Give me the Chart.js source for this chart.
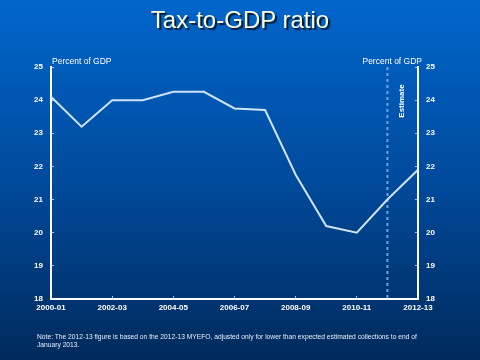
<!DOCTYPE html>
<html>
<head>
<meta charset="utf-8">
<script src="https://cdn.jsdelivr.net/npm/chart.js@4/dist/chart.umd.min.js"></script>
<style>
  html, body {
    margin: 0;
    padding: 0;
  }
  body {
    width: 480px;
    height: 360px;
    overflow: hidden;
    position: relative;
    background: linear-gradient(to bottom, #0066cc 0%, #004a9c 50%, #002a5c 100%);
    font-family: "Liberation Sans", Arial, sans-serif;
  }
  #title {
    position: absolute;
    left: 0;
    top: 8px;
    width: 480px;
    text-align: center;
    font-size: 24px;
    line-height: 1;
    color: #fffbdc;
    text-shadow: 2px 2px 1px #001a33;
  }
  #note {
    position: absolute;
    left: 37px;
    top: 333px;
    font-size: 6.7px;
    line-height: 8.4px;
    color: #e8eef8;
    white-space: nowrap;
  }
  #chartBox {
    position: absolute;
    left: 0;
    top: 0;
    width: 480px;
    height: 360px;
  }
</style>
</head>
<body>

<div id="chartBox"><canvas id="taxChart"></canvas></div>
<div id="title">Tax-to-GDP ratio</div>
<div id="note">Note: The 2012-13 figure is based on the 2012-13 MYEFO, adjusted only for lower than expected estimated collections to end of<br>January 2013.</div>

<script>
// =============================
// Data
// =============================

const years = [
    "2000-01", "2001-02", "2002-03", "2003-04", "2004-05", "2005-06", "2006-07",
    "2007-08", "2008-09", "2009-10", "2010-11", "2011-12", "2012-13"
];

const taxToGdp = [
    24.1, 23.2, 24.0, 24.0, 24.25, 24.25, 23.75,
    23.7, 21.75, 20.2, 20.0, 21.0, 21.9
];

const yTicks = [18, 19, 20, 21, 22, 23, 24, 25];

const estimateFrom = "2011-12";
const axisTitle = "Percent of GDP";
const estimateText = "Estimate";


// =============================
// Extra drawing
// =============================

const fontFamily = "'Liberation Sans', Arial, sans-serif";

const extras = {
    id: "extras",
    beforeDatasetsDraw(chart) {
        const ctx = chart.ctx;
        const area = chart.chartArea;
        const x = chart.scales.x.getPixelForValue(years.indexOf(estimateFrom));

        ctx.save();
        ctx.strokeStyle = "#6fa3e0";
        ctx.lineWidth = 2;
        ctx.setLineDash([3, 3]);
        ctx.beginPath();
        ctx.moveTo(x, area.top);
        ctx.lineTo(x, area.bottom);
        ctx.stroke();
        ctx.restore();
    },
    afterDraw(chart) {
        const ctx = chart.ctx;
        const area = chart.chartArea;
        const x = chart.scales.x.getPixelForValue(years.indexOf(estimateFrom));

        ctx.save();
        ctx.fillStyle = "#ffffff";
        ctx.font = "8.5px " + fontFamily;
        ctx.textBaseline = "middle";

        ctx.textAlign = "left";
        ctx.fillText(axisTitle, area.left + 1, area.top - 5);

        ctx.textAlign = "right";
        ctx.fillText(axisTitle, area.right + 4, area.top - 5);

        ctx.translate(x + 14, area.top + 34);
        ctx.rotate(-Math.PI / 2);
        ctx.textAlign = "center";
        ctx.font = "bold 8px " + fontFamily;
        ctx.fillText(estimateText, 0, 0);
        ctx.restore();
    }
};


// =============================
// Chart
// =============================

const tickFont = { family: fontFamily, size: 8, weight: "bold" };

function yAxis(position, width) {
    return {
        position: position,
        min: yTicks[0],
        max: yTicks[yTicks.length - 1],
        afterBuildTicks: (scale) => {
            scale.ticks = yTicks.map(v => ({ value: v }));
        },
        afterFit: (scale) => {
            scale.width = width;
        },
        border: { display: true, color: "#ffffff", width: 2 },
        grid: {
            drawOnChartArea: false,
            drawTicks: true,
            tickLength: -3,
            color: "#a9c4e4"
        },
        ticks: {
            color: "#ffffff",
            font: tickFont,
            padding: 11
        }
    };
}

new Chart(document.getElementById("taxChart"), {
    type: "line",
    data: {
        labels: years,
        datasets: [{
            data: taxToGdp,
            borderColor: "#cfe3f7",
            borderWidth: 2,
            pointRadius: 0,
            tension: 0,
            fill: false
        }]
    },
    options: {
        responsive: true,
        maintainAspectRatio: false,
        animation: false,
        layout: {
            padding: { top: 67, left: 0, right: 0, bottom: 0 }
        },
        plugins: {
            legend: { display: false },
            tooltip: { enabled: false }
        },
        scales: {
            x: {
                offset: false,
                afterFit: (scale) => {
                    scale.height = 61;
                },
                border: { display: true, color: "#ffffff", width: 2 },
                grid: {
                    drawOnChartArea: false,
                    drawTicks: true,
                    tickLength: -3,
                    color: (c) => (c.index % 2 === 0 ? "#a9c4e4" : "rgba(0,0,0,0)")
                },
                ticks: {
                    autoSkip: false,
                    maxRotation: 0,
                    color: "#ffffff",
                    font: tickFont,
                    padding: 7,
                    callback: (value, index) => (index % 2 === 0 ? years[index] : "")
                }
            },
            y: yAxis("left", 51),
            y2: yAxis("right", 62)
        }
    },
    plugins: [extras]
});
</script>
</body>
</html>
